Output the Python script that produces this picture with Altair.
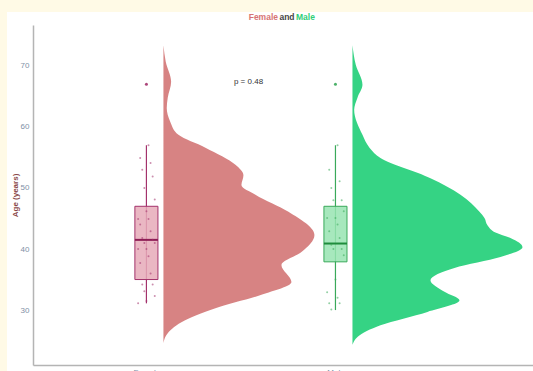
import altair as alt
import pandas as pd

# Groups and their styling
groups = ["Female", "Male"]
group_pos = [1, 2]
violin_colors = ["#d78383", "#35d384"]
box_fill = ["#e6aab8", "#98e4b2"]
box_stroke = ["#a3326b", "#3aa95a"]
median_color = ["#8e1d55", "#1f8c3c"]
point_color = ["#a3326b", "#3aa95a"]

# Half-violin density profiles (age, relative density)
female_age = [73.4, 70.7, 67.4, 64.8, 63.1, 60.9, 58.7, 56.6, 53.8, 52.1, 50.5,
              48.9, 46.1, 42.3, 39.5, 37.4, 34.6, 32.5, 30.3, 28.0, 25.9, 24.6]
female_dens = [0.0, 0.023, 0.077, 0.043, 0.033, 0.067, 0.15, 0.42, 0.72, 0.80, 0.78,
               0.92, 1.25, 1.51, 1.38, 1.18, 1.28, 0.98, 0.52, 0.18, 0.03, 0.0]
male_age = [73.4, 70.2, 66.9, 64.8, 62.8, 58.7, 56.6, 54.9, 51.6, 48.9, 46.1, 45.1,
            43.9, 42.7, 41.8, 40.3, 38.7, 36.9, 34.9, 33.0, 31.6, 29.7, 27.5, 25.6, 24.3]
male_dens = [0.0, 0.033, 0.10, 0.05, 0.017, 0.10, 0.17, 0.28, 0.78, 1.08, 1.27, 1.32,
             1.35, 1.43, 1.58, 1.70, 1.48, 1.02, 0.78, 0.92, 1.07, 0.75, 0.28, 0.05, 0.0]

# Box plot summaries
box_low = [31.1, 30.0]
box_q1 = [35.0, 37.9]
box_med = [41.5, 40.9]
box_q3 = [47.0, 47.0]
box_high = [57.0, 57.0]
outlier_age = [67.0, 67.0]

# Individual observations
female_points = [57.0, 54.9, 54.1, 53.0, 51.9, 50.0, 48.1, 46.2, 44.9, 44.9, 44.0, 42.9,
                 41.8, 41.5, 41.0, 41.0, 40.0, 40.0, 38.8, 37.7, 36.0, 34.2, 34.2, 33.1,
                 32.3, 31.5, 31.1]
male_points = [57.0, 53.0, 51.1, 50.0, 48.0, 48.0, 46.2, 45.1, 45.1, 44.0, 42.9, 41.8,
               40.7, 40.0, 40.0, 39.0, 35.0, 32.9, 32.0, 31.1, 31.1, 30.1]

p_label = "p = 0.48"
p_label_x = 1.54
p_label_age = 67.4

width, height = 500, 340
x_scale = alt.Scale(domain=[0.4, 3.045], nice=False, zero=False)
y_scale = alt.Scale(domain=[21.0, 76.7], nice=False, zero=False)
dens_scale = 0.529  # x units per density unit
violin_gap = 0.09
box_half = 0.061

y_axis = alt.Axis(values=[30, 40, 50, 60, 70], ticks=False, grid=False, zindex=1,
                  domainColor="#b4b4b4", domainWidth=1.5,
                  labelColor="#8090a6", labelFontSize=8, labelPadding=4,
                  title="Age (years)", titleColor="#8a4848", titleFontSize=8,
                  titleFontWeight="bold", titlePadding=1)
x_axis = alt.Axis(values=[1, 2], labelExpr="datum.value == 1 ? 'Female' : 'Male'",
                  ticks=False, grid=False, zindex=1, domainColor="#b4b4b4", domainWidth=1.5,
                  labelColor="#8090a6", labelFontSize=8, labelPadding=3, title=None)

panel = alt.Chart(pd.DataFrame({"k": [0]})).mark_rect(color="white").encode(
    x=alt.value(-26), x2=alt.value(width), y=alt.value(-13), y2=alt.value(height + 6)
)

# Layer that carries both axes
axes = alt.Chart(pd.DataFrame({"x": [1, 2], "age": [30, 70]})).mark_point(opacity=0).encode(
    x=alt.X("x:Q", scale=x_scale, axis=x_axis),
    y=alt.Y("age:Q", scale=y_scale, axis=y_axis),
)


def group_layers(i, ages, dens, pts):
    pos = group_pos[i]
    vdf = pd.DataFrame({"age": ages, "dens": dens}).sort_values("age")
    violin = alt.Chart(vdf).transform_calculate(
        x0=f"{pos} + {violin_gap}",
        xv=f"{pos} + {violin_gap} + datum.dens * {dens_scale}",
    ).mark_area(orient="horizontal", interpolate="monotone",
                color=violin_colors[i]).encode(
        y=alt.Y("age:Q", scale=y_scale),
        x=alt.X("xv:Q", scale=x_scale),
        x2="x0:Q",
    )

    bdf = pd.DataFrame({"pos": [pos], "low": [box_low[i]], "q1": [box_q1[i]],
                        "med": [box_med[i]], "q3": [box_q3[i]], "high": [box_high[i]],
                        "out": [outlier_age[i]]})
    base = alt.Chart(bdf).transform_calculate(
        xl=f"datum.pos - {box_half}", xr=f"datum.pos + {box_half}"
    )
    whisker = base.mark_rule(strokeWidth=1.2, color=box_stroke[i]).encode(
        x=alt.X("pos:Q", scale=x_scale),
        y=alt.Y("low:Q", scale=y_scale), y2="high:Q",
    )
    box = base.mark_rect(strokeWidth=1, fill=box_fill[i], fillOpacity=0.85,
                         stroke=box_stroke[i]).encode(
        x=alt.X("xl:Q", scale=x_scale), x2="xr:Q",
        y=alt.Y("q1:Q", scale=y_scale), y2="q3:Q",
    )
    median = base.mark_rule(strokeWidth=2, color=median_color[i]).encode(
        x=alt.X("xl:Q", scale=x_scale), x2="xr:Q",
        y=alt.Y("med:Q", scale=y_scale),
    )
    outlier = base.mark_circle(size=9, opacity=0.9, color=point_color[i]).encode(
        x=alt.X("pos:Q", scale=x_scale),
        y=alt.Y("out:Q", scale=y_scale),
    )

    pdf = pd.DataFrame({"age": pts})
    points = alt.Chart(pdf).transform_window(
        idx="row_number()"
    ).transform_calculate(
        xj=f"{pos} + ((datum.idx * 5) % 9 - 4) * 0.011"
    ).mark_circle(size=4, opacity=0.55, color=point_color[i]).encode(
        x=alt.X("xj:Q", scale=x_scale),
        y=alt.Y("age:Q", scale=y_scale),
    )
    return [violin, whisker, box, median, points, outlier]


female_layers = group_layers(0, female_age, female_dens, female_points)
male_layers = group_layers(1, male_age, male_dens, male_points)

p_text = alt.Chart(pd.DataFrame({"label": [p_label], "x": [p_label_x], "age": [p_label_age]})).mark_text(
    font="Liberation Sans", fontSize=8, color="#333333"
).encode(x=alt.X("x:Q", scale=x_scale),
         y=alt.Y("age:Q", scale=y_scale), text="label:N")

# Two-colour title built from three text pieces
title_common = dict(font="Liberation Sans", fontSize=8.5, fontWeight="bold", baseline="middle")
t_female = alt.Chart(pd.DataFrame({"t": ["Female"]})).mark_text(
    align="right", color="#d77474", **title_common
).encode(x=alt.value(245), y=alt.value(-8), text="t:N")
t_and = alt.Chart(pd.DataFrame({"t": ["and"]})).mark_text(
    align="center", color="#444444", **title_common
).encode(x=alt.value(254), y=alt.value(-8), text="t:N")
t_male = alt.Chart(pd.DataFrame({"t": ["Male"]})).mark_text(
    align="left", color="#2fcf78", **title_common
).encode(x=alt.value(263), y=alt.value(-8), text="t:N")

chart = alt.layer(
    panel, axes, *female_layers, *male_layers, p_text, t_female, t_and, t_male
).properties(
    width=width, height=height,
    padding={"left": 33, "top": 25, "right": 0, "bottom": 6},
    autosize="none",
    background="#fffae6",
).configure_view(stroke=None)

chart.save("out.html", embed_options={"renderer": "svg", "actions": False})
